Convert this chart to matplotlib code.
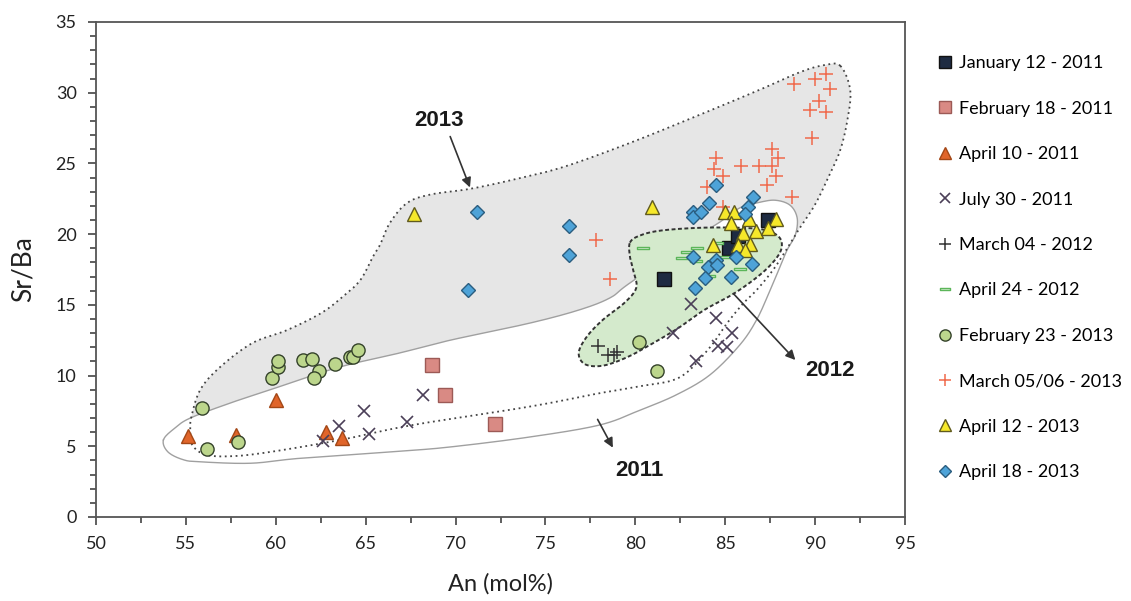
import numpy as np
import matplotlib
matplotlib.use("Agg")
import matplotlib.pyplot as plt
from matplotlib.path import Path

plt.rcParams['font.family'] = ['Lato', 'DejaVu Sans']

# ---- sample series: An (mol%) and Sr/Ba ----
jan12_2011_an = [81.6, 85.2, 85.7, 87.4]
jan12_2011_srba = [16.8, 19.0, 19.9, 21.0]

feb18_2011_an = [68.7, 69.4, 72.2]
feb18_2011_srba = [10.75, 8.6, 6.6]

apr10_2011_an = [55.1, 57.8, 60.0, 62.8, 63.7]
apr10_2011_srba = [5.7, 5.8, 8.3, 6.0, 5.6]

jul30_2011_an = [62.6, 63.5, 64.9, 65.2, 67.3, 68.2, 82.1, 83.1, 83.35, 84.5, 84.6, 85.1, 85.4]
jul30_2011_srba = [5.35, 6.4, 7.5, 5.9, 6.7, 8.6, 13.0, 15.05, 11.0, 14.1, 12.1, 12.0, 13.0]

mar04_2012_an = [77.9, 78.5, 78.8, 79.0]
mar04_2012_srba = [12.1, 11.45, 11.45, 11.7]

apr24_2012_an = [80.45, 82.85, 83.45, 83.4, 84.55, 85.05, 85.8, 84.1, 82.6]
apr24_2012_srba = [19.05, 18.75, 19.0, 18.1, 19.4, 18.4, 17.55, 17.05, 18.3]

feb23_2013_an = [55.9, 56.2, 57.9, 59.8, 60.1, 60.1, 61.5, 62.0, 62.4, 62.1,
                 63.3, 64.1, 64.3, 64.6, 80.2, 81.2]
feb23_2013_srba = [7.7, 4.8, 5.3, 9.8, 10.6, 11.0, 11.1, 11.2, 10.3, 9.8,
                   10.8, 11.3, 11.3, 11.8, 12.4, 10.3]

mar0506_2013_an = [90.6, 90.0, 88.8, 90.8, 90.2, 89.7, 90.6, 89.8, 87.6, 87.95,
                   84.5, 84.4, 84.9, 85.9, 86.9, 87.6, 87.8, 87.3, 84.0, 88.7,
                   84.9, 77.8, 78.6]
mar0506_2013_srba = [31.3, 30.95, 30.6, 30.25, 29.4, 28.8, 28.65, 26.8, 26.0, 25.4,
                     25.4, 24.6, 24.1, 24.8, 24.8, 24.8, 24.1, 23.5, 23.35, 22.6,
                     21.9, 19.6, 16.8]

apr12_2013_an = [67.7, 80.9, 85.0, 85.5, 85.3, 86.3, 87.8, 84.3, 86.0, 86.7,
                 87.4, 85.7, 86.4, 86.1]
apr12_2013_srba = [21.4, 21.9, 21.6, 21.6, 20.8, 21.1, 21.1, 19.2, 20.1, 20.2,
                   20.4, 19.2, 19.3, 18.9]

apr18_2013_an = [71.2, 76.3, 76.3, 70.7, 84.5, 84.1, 83.2, 83.2, 83.65, 86.55,
                 86.25, 86.1, 83.2, 84.5, 84.05, 84.55, 83.9, 83.3, 85.6, 85.3, 86.5]
apr18_2013_srba = [21.6, 20.6, 18.5, 16.05, 23.5, 22.2, 21.6, 21.2, 21.55, 22.65,
                   21.9, 21.4, 18.4, 18.15, 17.7, 17.8, 16.9, 16.2, 18.35, 17.0, 17.9]

# ---- field outlines (control points, smoothed below) ----
env2013_an = [91.4, 91.95, 91.8, 91.4, 90.8, 90.0, 89.15, 88.4, 87.65, 86.75,
              86.0, 85.1, 84.15, 82.5, 80.3, 78.0, 74.1, 67.6, 63.6, 59.7,
              57.6, 56.1, 55.35, 55.25, 55.3, 55.8, 56.9, 58.7, 60.6, 62.5,
              63.7, 64.7, 65.4, 65.8, 66.35, 67.3, 68.6, 70.8, 73.2, 76.0,
              79.7, 83.6, 86.9, 89.15, 90.5]
env2013_srba = [31.9, 30.2, 28.1, 25.95, 24.2, 22.1, 20.45, 18.9, 17.45, 16.05,
                15.1, 13.7, 12.0, 9.9, 9.25, 8.75, 7.8, 6.5, 5.45, 4.6,
                4.3, 4.4, 5.1, 6.1, 7.05, 9.0, 10.6, 12.3, 13.2, 14.4,
                15.55, 16.75, 18.4, 19.25, 20.8, 22.2, 22.8, 23.2, 23.85, 24.75,
                26.45, 28.45, 30.2, 31.45, 31.95]

env2011_an = [53.75, 54.4, 55.25, 57.45, 59.7, 63.4, 66.9, 69.7, 74.1, 76.9,
              78.6, 79.7, 83.6, 84.7, 85.8, 86.75, 87.75, 88.6, 89.0, 88.9,
              88.45, 88.05, 87.5, 86.75, 85.8, 84.15, 82.3, 80.25, 78.0, 74.1,
              69.7, 66.9, 61.35, 58.6, 55.8, 54.85, 54.0]
env2011_srba = [5.45, 6.3, 7.0, 8.05, 9.0, 10.55, 11.6, 12.5, 13.7, 14.65,
                15.5, 16.55, 19.95, 20.85, 21.85, 22.2, 22.4, 22.05, 21.15, 19.95,
                18.9, 17.7, 16.05, 13.95, 12.15, 10.05, 8.65, 7.55, 6.5, 5.65,
                4.95, 4.65, 4.15, 3.8, 3.9, 4.05, 4.6]

env2012_an = [79.7, 80.25, 81.4, 83.6, 85.8, 87.2, 87.95, 88.15, 87.9, 87.05,
              85.55, 83.85, 82.5, 81.0, 79.55, 78.2, 77.2, 76.85, 77.3, 78.2,
              79.4, 80.05, 79.9, 79.7]
env2012_srba = [19.4, 19.9, 20.25, 20.45, 20.45, 20.3, 19.85, 19.2, 18.4, 17.25,
                15.85, 14.65, 13.45, 12.3, 11.3, 10.7, 10.8, 11.6, 12.75, 13.95,
                15.15, 16.2, 17.35, 18.4]


def smooth_closed(xs, ys, n=24):
    """Closed Catmull-Rom spline through the control points."""
    P = np.column_stack([xs, ys]).astype(float)
    N = len(P)
    t = np.linspace(0, 1, n, endpoint=False)[:, None]
    segs = []
    for i in range(N):
        p0, p1, p2, p3 = P[(i - 1) % N], P[i], P[(i + 1) % N], P[(i + 2) % N]
        segs.append(0.5 * (2 * p1 + (-p0 + p2) * t
                           + (2 * p0 - 5 * p1 + 4 * p2 - p3) * t ** 2
                           + (-p0 + 3 * p1 - 3 * p2 + p3) * t ** 3))
    pts = np.vstack(segs)
    return np.vstack([pts, pts[:1]])


fig = plt.figure(figsize=(11.31, 6.01), dpi=100)
ax = fig.add_axes([0.0849, 0.1398, 0.7153, 0.8236])

e13 = smooth_closed(env2013_an, env2013_srba)
e11 = smooth_closed(env2011_an, env2011_srba)
e12 = smooth_closed(env2012_an, env2012_srba)

ax.fill(e13[:, 0], e13[:, 1], color='#e6e6e6', lw=0, zorder=0.5)
ax.fill(e11[:, 0], e11[:, 1], color='white', lw=0, zorder=0.6)
ax.plot(e11[:, 0], e11[:, 1], color='#a0a0a0', lw=1.0, zorder=0.7)
ax.plot(e13[:, 0], e13[:, 1], color='#444444', lw=1.3,
        linestyle=(0, (1, 2)), zorder=0.8)
ax.fill(e12[:, 0], e12[:, 1], color='#d4eacc', lw=0, zorder=0.9)
ax.plot(e12[:, 0], e12[:, 1], color='#333333', lw=1.4,
        linestyle=(0, (2, 1.3)), zorder=1.0)

# flat hollow bar marker
bar = Path([(-1, -0.2), (1, -0.2), (1, 0.2), (-1, 0.2), (-1, -0.2)],
           [Path.MOVETO, Path.LINETO, Path.LINETO, Path.LINETO, Path.CLOSEPOLY])

series = [
    (jan12_2011_an, jan12_2011_srba, 'January 12 - 2011',
     dict(marker='s', ms=9.5, mfc='#1e2b42', mec='#111111', mew=1.0)),
    (feb18_2011_an, feb18_2011_srba, 'February 18 - 2011',
     dict(marker='s', ms=9.5, mfc='#d98a84', mec='#9c5a56', mew=1.0)),
    (apr10_2011_an, apr10_2011_srba, 'April 10 - 2011',
     dict(marker='^', ms=10, mfc='#e0652a', mec='#a34716', mew=1.0)),
    (jul30_2011_an, jul30_2011_srba, 'July 30 - 2011',
     dict(marker='x', ms=9, mfc='none', mec='#4b3f58', mew=1.2)),
    (mar04_2012_an, mar04_2012_srba, 'March 04 - 2012',
     dict(marker='+', ms=10, mfc='none', mec='#333333', mew=1.1)),
    (apr24_2012_an, apr24_2012_srba, 'April 24 - 2012',
     dict(marker=bar, ms=8, mfc='#eaf6e6', mec='#5cb65a', mew=1.0)),
    (feb23_2013_an, feb23_2013_srba, 'February 23 - 2013',
     dict(marker='o', ms=9.5, mfc='#bcd68c', mec='#34422a', mew=1.0)),
    (mar0506_2013_an, mar0506_2013_srba, 'March 05/06 - 2013',
     dict(marker='+', ms=10, mfc='none', mec='#f0694c', mew=1.1)),
    (apr12_2013_an, apr12_2013_srba, 'April 12 - 2013',
     dict(marker='^', ms=10, mfc='#f6e82a', mec='#605a1e', mew=1.0)),
    (apr18_2013_an, apr18_2013_srba, 'April 18 - 2013',
     dict(marker='D', ms=6.8, mfc='#4ea3d8', mec='#2a5d7f', mew=1.0)),
]

for i, (xv, yv, lab, style) in enumerate(series):
    ax.plot(xv, yv, linestyle='none', label=lab, zorder=2 + i * 0.1, **style)

# field labels with arrows
arrow = dict(arrowstyle='-|>', color='#333333', lw=1.2, mutation_scale=14,
             shrinkA=0, shrinkB=0)
label_style = dict(fontsize=16, fontweight='bold', family=['Liberation Sans'],
                   ha='center', va='center', color='#1a1a1a')
ax.annotate('', xy=(70.8, 23.3), xytext=(69.7, 26.9), arrowprops=arrow, zorder=3)
ax.text(69.1, 28.0, '2013', **label_style)
ax.annotate('', xy=(88.9, 11.1), xytext=(85.45, 15.8), arrowprops=arrow, zorder=3)
ax.text(90.85, 10.35, '2012', **label_style)
ax.annotate('', xy=(78.75, 4.9), xytext=(77.9, 6.9), arrowprops=arrow, zorder=3)
ax.text(80.2, 3.3, '2011', **label_style)

ax.set_xlim(50, 95)
ax.set_ylim(0, 35)
ax.set_xticks(np.arange(50, 96, 5))
ax.set_xticks(np.arange(50, 96, 2.5), minor=True)
ax.set_yticks(np.arange(0, 36, 5))
ax.set_yticks(np.arange(0, 36, 1), minor=True)
ax.tick_params(which='both', direction='out', color='#444444', width=1.2,
               labelsize=13, labelcolor='#222222', top=False, right=False)
ax.tick_params(which='major', length=6, pad=8)
ax.tick_params(which='minor', length=4)
for s in ax.spines.values():
    s.set_color('#555555')
    s.set_linewidth(1.3)

ax.set_xlabel('An (mol%)', fontsize=17, color='#222222', labelpad=15)
ax.set_ylabel('Sr/Ba', fontsize=19, color='#222222', labelpad=14)

ax.legend(loc='upper left', bbox_to_anchor=(0.8295, 0.908),
          bbox_transform=fig.transFigure, frameon=False, fontsize=13,
          handlelength=0.8, handletextpad=0.35, labelspacing=1.63,
          markerscale=0.85, borderpad=0, borderaxespad=0)

fig.savefig('out.png', dpi=100, facecolor='white')
